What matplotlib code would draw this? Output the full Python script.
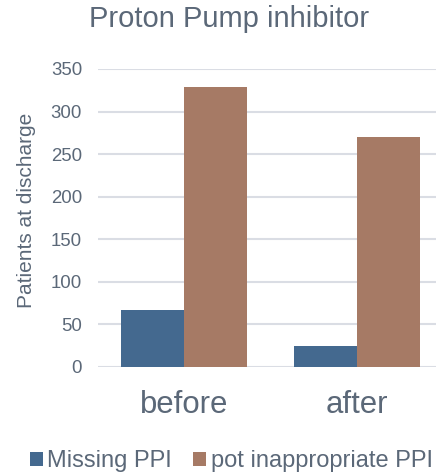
import matplotlib
matplotlib.use("Agg")
import matplotlib.pyplot as plt
import numpy as np
from matplotlib.patches import Patch

categories = ["before", "after"]
series_names = ["Missing PPI", "pot inappropriate PPI"]
missing_ppi = [67, 24]
pot_inappropriate_ppi = [329, 270]
yticks = [0, 50, 100, 150, 200, 250, 300, 350]

blue = "#44698F"
brown = "#A67A65"
text_col = "#5B6878"
grid_col = "#DADDE4"

plt.rcParams["font.family"] = ["Liberation Sans", "DejaVu Sans"]

W, H = 436, 473
fig = plt.figure(figsize=(W / 100, H / 100), dpi=100)
left_px, right_px, top_px, bottom_px = 98, 443, 69, 366.7
ax = fig.add_axes([left_px / W, 1 - bottom_px / H, (right_px - left_px) / W, (bottom_px - top_px) / H])

x = np.arange(len(categories))
w = 0.366
ax.bar(x - w / 2, missing_ppi, width=w, color=blue, zorder=3)
ax.bar(x + w / 2, pot_inappropriate_ppi, width=w, color=brown, zorder=3)

ax.set_xlim(-0.5, 1.5)
ax.set_ylim(0, 350)
ax.set_yticks(yticks)
ax.set_xticks(x)
ax.set_xticklabels(categories)
ax.yaxis.grid(True, color=grid_col, linewidth=1.5, zorder=0)
ax.set_axisbelow(True)
for s in ax.spines.values():
    s.set_visible(False)
ax.tick_params(axis="y", length=0, pad=11.5, labelsize=13.4, labelcolor=text_col)
ax.tick_params(axis="x", length=0, pad=17, labelsize=22.4, labelcolor=text_col)

ax.set_ylabel("Patients at discharge", fontsize=15, color=text_col)
ax.yaxis.set_label_coords((36 - left_px) / (right_px - left_px), (bottom_px - 210) / (bottom_px - top_px))

fig.text(229 / W, 1 - 19 / H, "Proton Pump inhibitor", fontsize=21, color=text_col,
         ha="center", va="center")

handles = [Patch(facecolor=blue), Patch(facecolor=brown)]
leg = fig.legend(handles, series_names, loc="center", bbox_to_anchor=(231.5 / W, 1 - 461 / H),
                 ncol=2, frameon=False, fontsize=17, handlelength=0.55, handleheight=0.55,
                 handletextpad=0.2, columnspacing=0.9, borderpad=0, borderaxespad=0)
for t in leg.get_texts():
    t.set_color(text_col)

fig.savefig("out.png", dpi=100)
